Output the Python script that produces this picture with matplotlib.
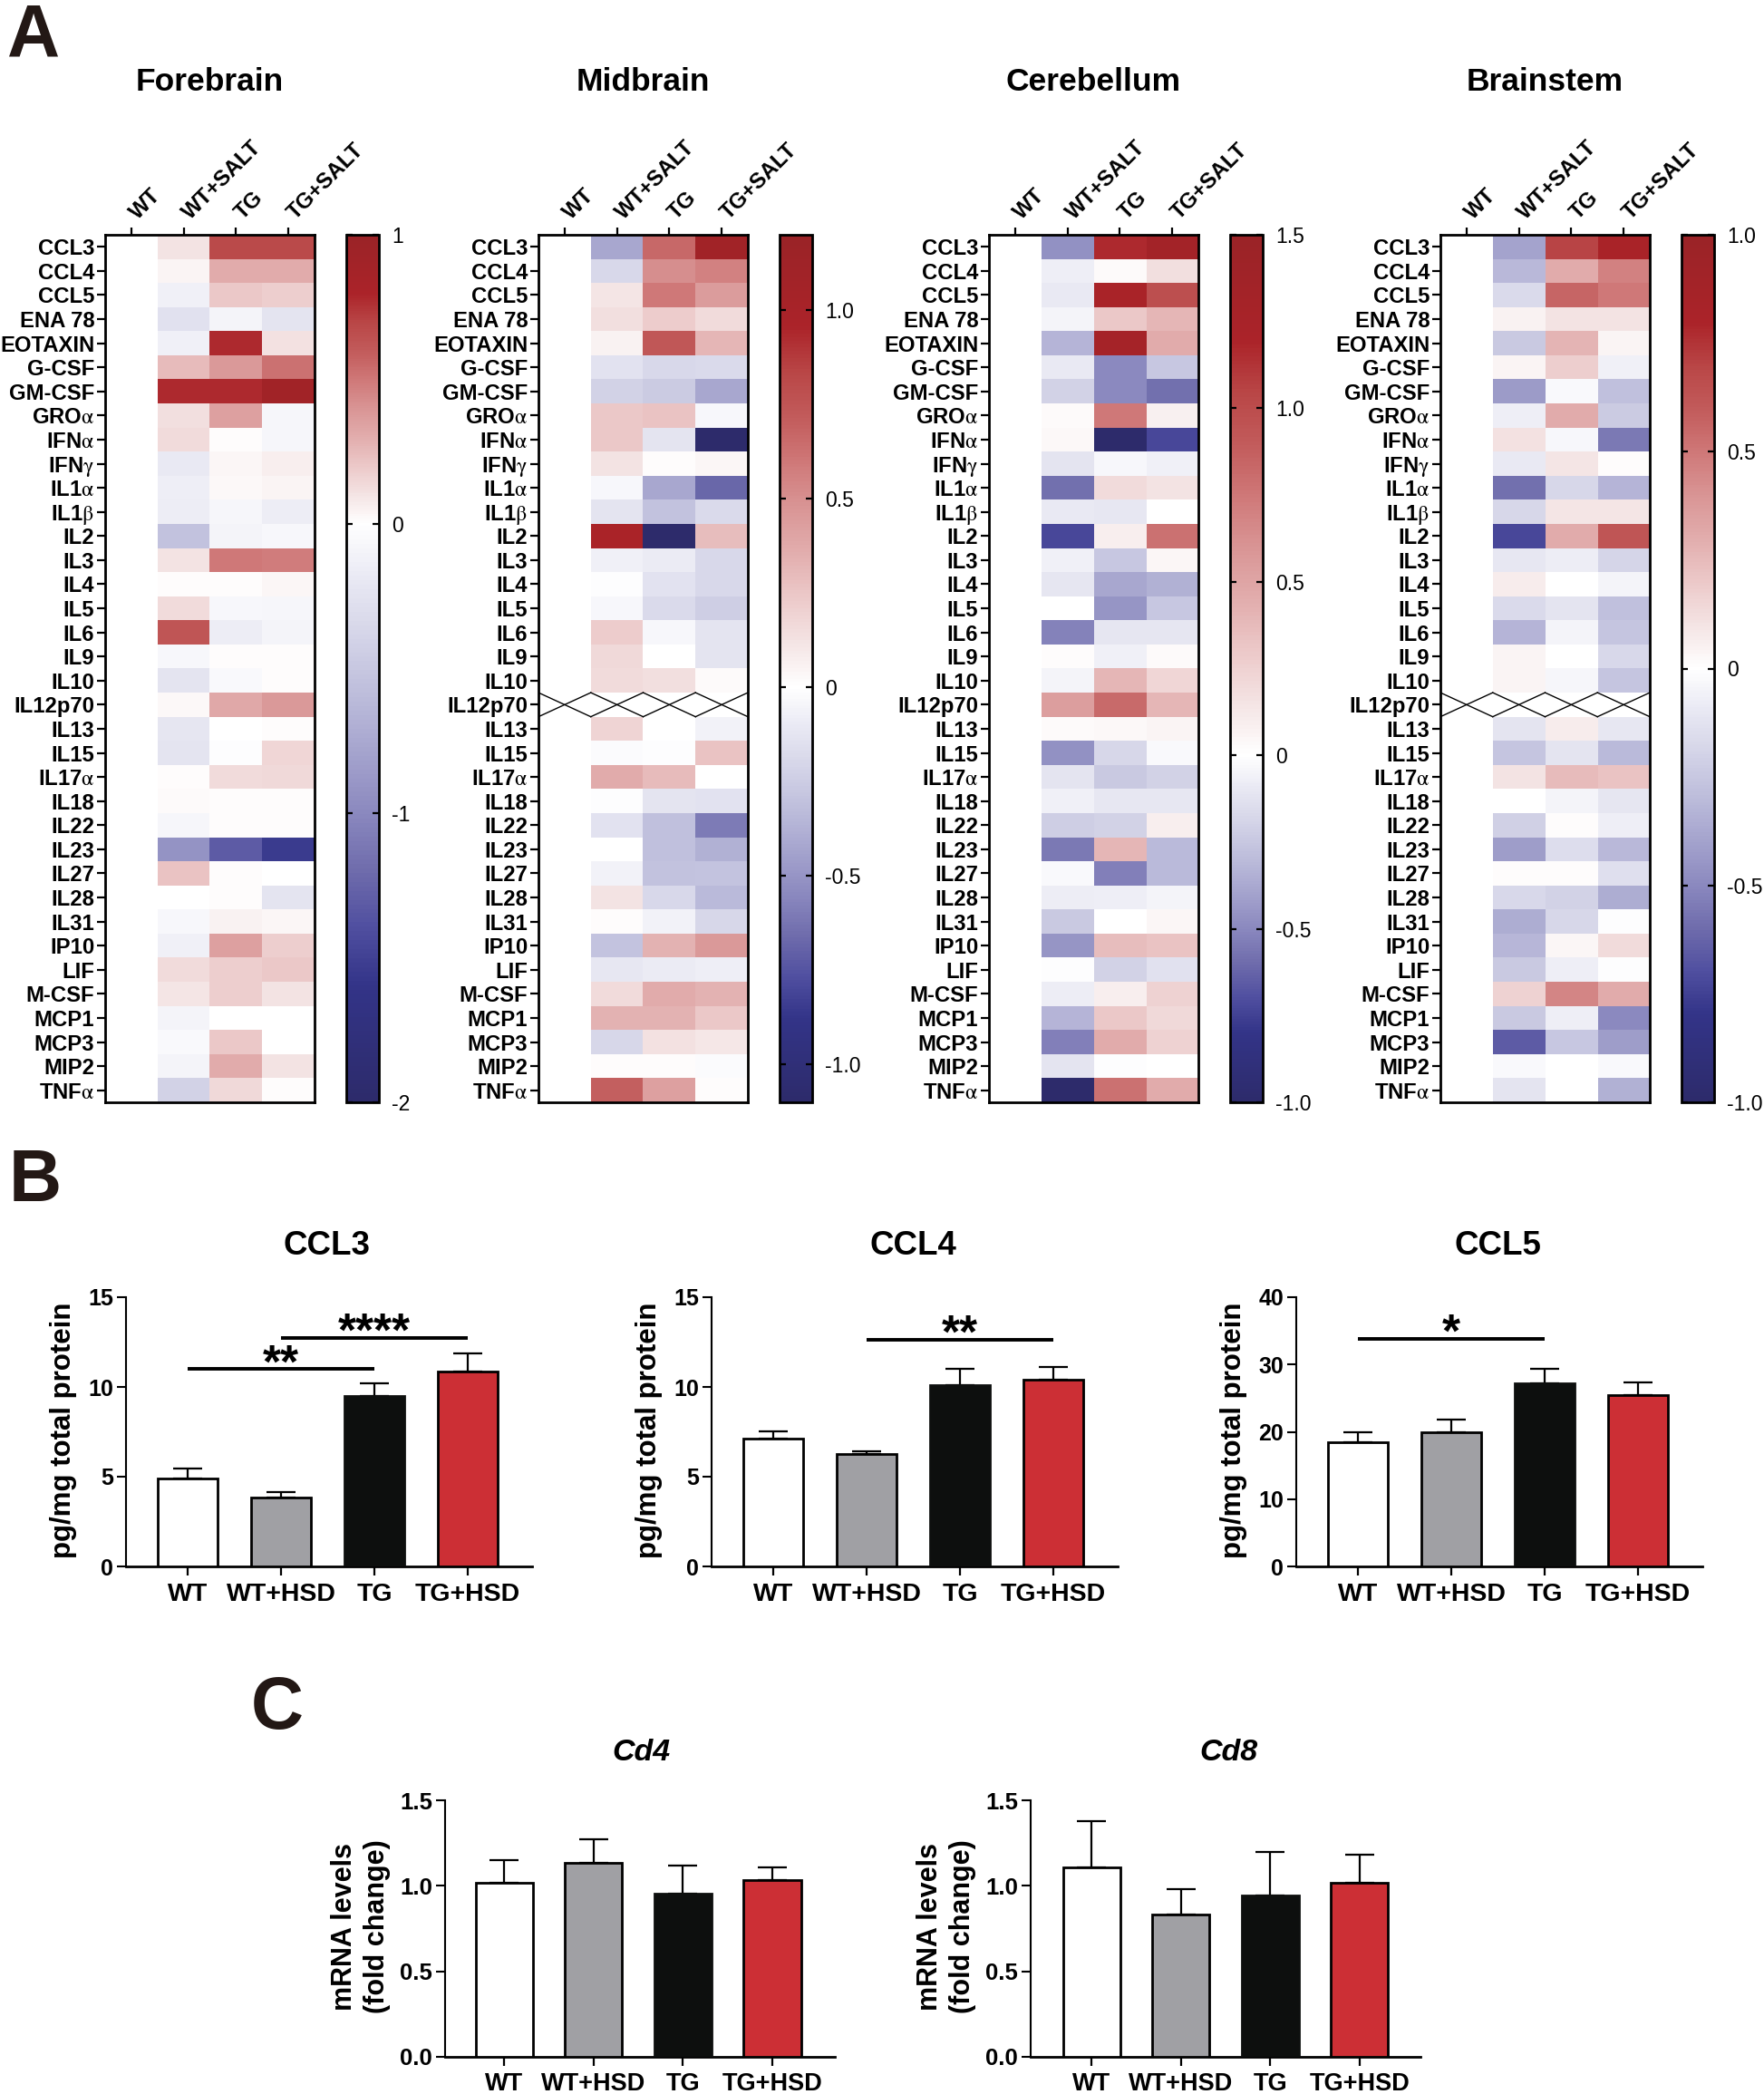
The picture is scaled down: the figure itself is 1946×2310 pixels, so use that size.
import numpy as np
import matplotlib
matplotlib.use("Agg")
import matplotlib.pyplot as plt
from matplotlib.colors import LinearSegmentedColormap, TwoSlopeNorm
from matplotlib.transforms import ScaledTranslation

plt.rcParams['font.family'] = ['Liberation Sans', 'DejaVu Sans']
plt.rcParams['mathtext.fontset'] = 'stix'

W, H = 1946, 2310

cytokines = ['CCL3', 'CCL4', 'CCL5', 'ENA 78', 'EOTAXIN', 'G-CSF', 'GM-CSF', r'GRO$\mathrm{\alpha}$',
             r'IFN$\mathrm{\alpha}$', r'IFN$\mathrm{\gamma}$', r'IL1$\mathrm{\alpha}$', r'IL1$\mathrm{\beta}$',
             'IL2', 'IL3', 'IL4', 'IL5', 'IL6', 'IL9', 'IL10', 'IL12p70', 'IL13', 'IL15', r'IL17$\mathrm{\alpha}$',
             'IL18', 'IL22', 'IL23', 'IL27', 'IL28', 'IL31', 'IP10', 'LIF', 'M-CSF', 'MCP1', 'MCP3', 'MIP2',
             r'TNF$\mathrm{\alpha}$']
heat_groups = ['WT', 'WT+SALT', 'TG', 'TG+SALT']
bar_groups = ['WT', 'WT+HSD', 'TG', 'TG+HSD']
nan = float('nan')

# columns: WT+SALT, TG, TG+SALT (WT is the reference, always 0)
forebrain = [
    [.10, .68, .68], [.04, .30, .30], [-.12, .20, .18], [-.26, -.10, -.24], [-.12, .78, .11],
    [.25, .38, .52], [.78, .78, .90], [.12, .35, -.08], [.13, .01, -.08], [-.18, .03, .06],
    [-.14, .02, .04], [-.16, -.08, -.16], [-.54, -.10, -.06], [.10, .50, .48], [.01, .01, .03],
    [.13, -.06, -.08], [.62, -.16, -.10], [-.06, .01, .01], [-.24, -.04, .01], [.02, .32, .38],
    [-.22, 0, .01], [-.24, -.02, .15], [.01, .13, .14], [.015, .005, .005], [-.08, .005, .005],
    [-.92, -1.30, -1.54], [.22, .01, 0], [0, .01, -.24], [-.06, .05, .03], [-.12, .35, .18],
    [.13, .18, .20], [.09, .18, .10], [-.10, 0, 0], [-.04, .20, 0], [-.10, .30, .10],
    [-.40, .14, .01]]
midbrain = [
    [-.42, .66, 1.08], [-.19, .50, .56], [.11, .60, .44], [.14, .22, .16], [.06, .74, .32],
    [-.14, -.19, -.18], [-.22, -.26, -.42], [.24, .26, -.03], [.24, -.13, -1.10], [.12, .01, .04],
    [-.03, -.42, -.68], [-.13, -.30, -.18], [.96, -1.10, .29], [-.07, -.09, -.19], [-.01, -.14, -.19],
    [-.03, -.18, -.24], [.22, -.03, -.13], [.17, 0, -.13], [.16, .14, .02], [nan, nan, nan],
    [.19, 0, -.06], [-.02, -.01, .26], [.36, .30, 0], [-.01, -.13, -.14], [-.14, -.31, -.60],
    [0, -.31, -.38], [-.06, -.30, -.29], [.12, -.19, -.33], [.01, -.06, -.20], [-.29, .34, .46],
    [-.11, -.09, -.08], [.16, .36, .34], [.34, .34, .24], [-.20, .13, .10], [.01, .01, -.02],
    [.70, .42, .01]]
cerebellum = [
    [-.47, 1.17, 1.32], [-.07, .02, .17], [-.09, 1.23, .98], [-.05, .30, .40], [-.33, 1.30, .45],
    [-.09, -.50, -.25], [-.20, -.50, -.58], [.02, .75, .08], [.03, -1.00, -.72], [-.12, -.03, -.06],
    [-.58, .20, .15], [-.09, -.10, 0], [-.72, .09, .78], [-.06, -.25, .05], [-.11, -.38, -.34],
    [0, -.45, -.25], [-.52, -.11, -.11], [.01, -.06, .02], [-.05, .40, .22], [.54, .82, .40],
    [.02, .03, .06], [-.47, -.18, -.02], [-.12, -.24, -.20], [-.06, -.10, -.10], [-.22, -.20, .09],
    [-.55, .40, -.30], [-.02, -.53, -.30], [-.08, -.07, -.05], [-.24, 0, .05], [-.45, .36, .33],
    [-.01, -.20, -.13], [-.08, .09, .24], [-.33, .30, .21], [-.53, .45, .24], [-.12, -.01, 0],
    [-1.00, .78, .45]]
brainstem = [
    [-.40, .70, .82], [-.31, .30, .47], [-.16, .56, .50], [.05, .10, .10], [-.24, .27, .04],
    [.04, .18, -.06], [-.43, -.02, -.28], [-.07, .30, -.23], [.11, -.03, -.55], [-.09, .09, .01],
    [-.58, -.18, -.33], [-.18, .09, .09], [-.72, .30, .62], [-.10, -.08, -.19], [.07, 0, -.05],
    [-.16, -.12, -.28], [-.33, -.05, -.26], [.04, 0, -.17], [.04, -.04, -.26], [nan, nan, nan],
    [-.12, .07, -.10], [-.26, -.12, -.30], [.10, .25, .22], [0, -.05, -.11], [-.21, .01, -.07],
    [-.42, -.15, -.31], [.01, .01, -.14], [-.17, -.20, -.36], [-.36, -.18, -.01], [-.32, .03, .13],
    [-.24, -.07, -.01], [.16, .45, .30], [-.24, -.07, -.50], [-.65, -.25, -.42], [-.02, 0, -.02],
    [-.12, 0, -.34]]

ccl3_mean = [4.9, 3.85, 9.5, 10.85]
ccl3_top = [5.45, 4.15, 10.2, 11.85]
ccl4_mean = [7.1, 6.25, 10.1, 10.4]
ccl4_top = [7.55, 6.4, 11.0, 11.1]
ccl5_mean = [18.4, 20.0, 27.2, 25.4]
ccl5_top = [20.0, 21.8, 29.3, 27.3]
cd4_mean = [1.02, 1.135, 0.955, 1.035]
cd4_top = [1.15, 1.27, 1.12, 1.11]
cd8_mean = [1.11, 0.83, 0.945, 1.02]
cd8_top = [1.38, 0.98, 1.2, 1.18]

bar_colors = ['white', '#a0a0a4', '#0d0f0e', '#cc2f35']
bar_edges = ['black', 'black', '#0d0f0e', 'black']

cmap = LinearSegmentedColormap.from_list('bwr_prism', [
    (0.00, '#2d2b6b'), (0.10, '#333488'), (0.15, '#504fa0'), (0.20, '#6f6cac'), (0.25, '#8b89bf'),
    (0.30, '#a4a3cd'), (0.35, '#bcbcdb'), (0.40, '#d3d3e7'), (0.45, '#e8e8f3'), (0.50, '#ffffff'),
    (0.55, '#f4e4e4'), (0.60, '#ecc9c9'), (0.65, '#e2adad'), (0.70, '#d99595'), (0.75, '#cf7878'),
    (0.80, '#c25b5b'), (0.85, '#b94646'), (0.90, '#ab2329'), (1.00, '#9a2327')], N=257)
cmap.set_bad('white')

fig = plt.figure(figsize=(W / 100, H / 100), dpi=100)


def px_axes(left, top, right, bottom):
    return fig.add_axes([left / W, 1 - bottom / H, (right - left) / W, (bottom - top) / H])


def heatmap(vals, left, cb_left, vmin, vmax, ticks, ticklabels):
    ax = px_axes(left, 259, left + 231, 1216)
    data = np.array([[0.0] + row for row in vals])
    missing = np.isnan(data[:, 1])
    data[missing, 0] = nan
    norm = TwoSlopeNorm(vcenter=0, vmin=vmin, vmax=vmax)
    im = ax.imshow(np.ma.masked_invalid(data), cmap=cmap, norm=norm, aspect='auto', interpolation='nearest')
    for r in np.where(missing)[0]:
        for j in range(4):
            ax.plot([j - .5, j + .5], [r - .5, r + .5], color='black', lw=1)
            ax.plot([j - .5, j + .5], [r + .5, r - .5], color='black', lw=1)
    ax.set_xlim(-.5, 3.5)
    ax.set_ylim(35.5, -.5)
    ax.set_yticks(range(36))
    ax.set_yticklabels(cytokines, fontsize=17.2, fontweight='bold')
    ax.tick_params(axis='y', length=6.5, width=1.6, pad=2)
    ax.xaxis.tick_top()
    ax.set_xticks(range(4))
    ax.set_xticklabels(heat_groups, fontsize=17.3, fontweight='bold', rotation=45,
                       ha='left', va='bottom', rotation_mode='anchor')
    ax.tick_params(axis='x', length=6, width=1.6, pad=3)
    shift = ScaledTranslation(8 / 72, 0, fig.dpi_scale_trans)
    for lab in ax.get_xticklabels():
        lab.set_transform(lab.get_transform() + shift)
    for s in ax.spines.values():
        s.set_linewidth(2)

    cax = px_axes(cb_left, 259, cb_left + 36, 1216)
    cb = fig.colorbar(im, cax=cax)
    cb.ax.set_yscale('linear')
    cb.set_ticks(ticks)
    cb.set_ticklabels(ticklabels)
    cb.ax.tick_params(axis='y', direction='in', left=True, right=True, length=5, width=1.6,
                      labelsize=16.5, pad=10)
    cb.outline.set_linewidth(2)


heatmap(forebrain, 116, 382, -2, 1, [1, 0, -1, -2], ['1', '0', '-1', '-2'])
heatmap(midbrain, 594, 860, -1.1, 1.2, [1, .5, 0, -.5, -1], ['1.0', '0.5', '0', '-0.5', '-1.0'])
heatmap(cerebellum, 1091, 1357, -1, 1.5, [1.5, 1, .5, 0, -.5, -1], ['1.5', '1.0', '0.5', '0', '-0.5', '-1.0'])
heatmap(brainstem, 1589, 1855, -1, 1, [1, .5, 0, -.5, -1], ['1.0', '0.5', '0', '-0.5', '-1.0'])

for name, cx in zip(['Forebrain', 'Midbrain', 'Cerebellum', 'Brainstem'], [231, 709, 1206, 1704]):
    fig.text(cx / W, 1 - 91 / H, name, fontsize=25.5, fontweight='bold', ha='center', va='center')


def barplot(mean, top, left, right, ax_top, ax_bottom, xlim, ymax, yticks, yticklabels, ylabel, label_x,
            tick_size, xlabel_size, ylabel_size, xpad):
    ax = px_axes(left, ax_top, right, ax_bottom)
    x = np.arange(4)
    ax.bar(x, mean, width=.64, color=bar_colors, edgecolor=bar_edges, linewidth=2, zorder=3)
    ax.errorbar(x, mean, yerr=[[0] * 4, np.array(top) - np.array(mean)], fmt='none', ecolor='black',
                elinewidth=1.6, capsize=11.5, capthick=1.6, zorder=2)
    ax.set_xlim(*xlim)
    ax.set_ylim(0, ymax)
    ax.spines['top'].set_visible(False)
    ax.spines['right'].set_visible(False)
    ax.spines['left'].set_linewidth(1.5)
    ax.spines['bottom'].set_linewidth(2)
    ax.set_xticks(x)
    ax.set_xticklabels(bar_groups, fontsize=xlabel_size, fontweight='bold')
    ax.set_yticks(yticks)
    ax.set_yticklabels(yticklabels, fontsize=tick_size, fontweight='bold')
    ax.tick_params(axis='x', length=7, width=1.6, pad=xpad)
    ax.tick_params(axis='y', length=7, width=1.5, pad=3)
    ax.set_ylabel(ylabel, fontsize=ylabel_size, fontweight='bold', va='center', linespacing=1.25)
    ax.yaxis.set_label_coords(label_x, .507)
    return ax


def sig_line(ax, x0, x1, y, stars):
    ax.plot([x0, x1], [y, y], color='black', lw=2.8, solid_capstyle='butt', clip_on=False)
    ax.annotate(stars, ((x0 + x1) / 2, y), xytext=(0, -6.5), textcoords='offset points', ha='center',
                va='baseline', fontsize=37, fontweight='bold')


b_xlim = (-.66, 3.69)
b_label = -69 / 448
ax = barplot(ccl3_mean, ccl3_top, 139, 587, 1431, 1728, b_xlim, 15, [0, 5, 10, 15], ['0', '5', '10', '15'],
             'pg/mg total protein', b_label, 18, 20.5, 22.5, 6)
sig_line(ax, 0, 2, 11.0, '**')
sig_line(ax, 1, 3, 12.75, '****')
ax = barplot(ccl4_mean, ccl4_top, 785, 1233, 1431, 1728, b_xlim, 15, [0, 5, 10, 15], ['0', '5', '10', '15'],
             'pg/mg total protein', b_label, 18, 20.5, 22.5, 6)
sig_line(ax, 1, 3, 12.65, '**')
ax = barplot(ccl5_mean, ccl5_top, 1430, 1878, 1431, 1728, b_xlim, 40, [0, 10, 20, 30, 40], ['0', '10', '20', '30', '40'],
             'pg/mg total protein', b_label, 18, 20.5, 22.5, 6)
sig_line(ax, 0, 2, 33.8, '*')

for name, cx in zip(['CCL3', 'CCL4', 'CCL5'], [361, 1007, 1652]):
    fig.text(cx / W, 1 - 1375 / H, name, fontsize=26.5, fontweight='bold', ha='center', va='center')

c_ticks = [0, .5, 1, 1.5]
c_labels = ['0.0', '0.5', '1.0', '1.5']
c_label = -93 / 430
barplot(cd4_mean, cd4_top, 491, 921, 1986, 2269, (-.66, 3.70), 1.5, c_ticks, c_labels,
        'mRNA levels\n(fold change)', c_label, 18.5, 19.5, 22, 5)
barplot(cd8_mean, cd8_top, 1137, 1567, 1986, 2269, (-.68, 3.68), 1.5, c_ticks, c_labels,
        'mRNA levels\n(fold change)', c_label, 18.5, 19.5, 22, 5)

for name, cx in zip(['Cd4', 'Cd8'], [707, 1355]):
    fig.text(cx / W, 1 - 1934 / H, name, fontsize=24.5, fontweight='bold', style='italic', ha='center', va='center')

for letter, x, y in [('A', 8, 62), ('B', 10, 1325), ('C', 277, 1907)]:
    fig.text(x / W, 1 - y / H, letter, fontsize=58, fontweight='bold', color='#231815', ha='left', va='baseline')

fig.savefig('out.png', dpi=100)
